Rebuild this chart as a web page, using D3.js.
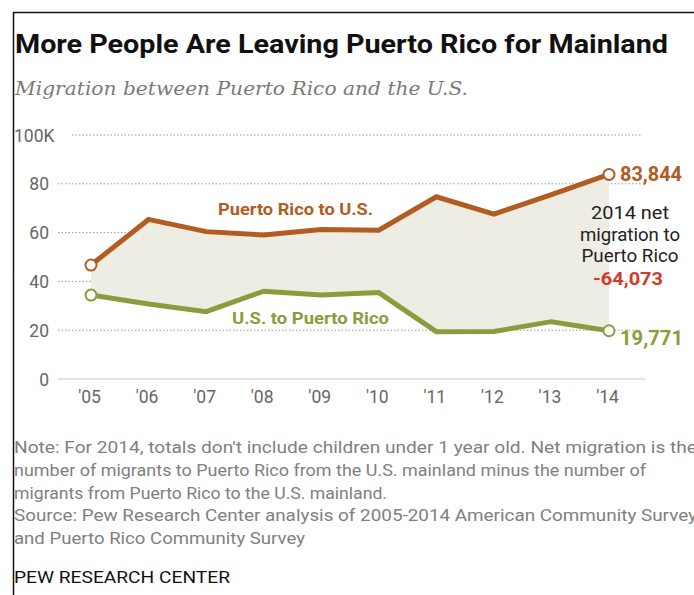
<!DOCTYPE html>
<html>
<head>
<meta charset="utf-8">
<script src="https://cdn.jsdelivr.net/npm/d3@7"></script>
<style>
  html, body { margin: 0; padding: 0; background: #fff; }
  svg { display: block; }
  .cond { font-family: "Liberation Sans Narrow", "Roboto", "Liberation Sans", sans-serif; }
</style>
</head>
<body>
<svg id="chart" width="694" height="595"></svg>
<script>
// Migration between Puerto Rico and the U.S. mainland, thousands of people
const years = ["'05", "'06", "'07", "'08", "'09", "'10", "'11", "'12", "'13", "'14"];
const prToUS = [46.7, 65.4, 60.4, 59.0, 61.3, 61.0, 74.7, 67.6, 75.6, 83.844];
const usToPR = [34.4, 30.7, 27.6, 36.0, 34.4, 35.4, 19.4, 19.5, 23.5, 19.771];
const yTicks = [0, 20, 40, 60, 80, 100];
const yTickLabels = ["0", "20", "40", "60", "80", "100K"];
const endLabels = ["83,844", "19,771"];
const netLabel = "-64,073";
const noteLines = [
  "Note: For 2014, totals don't include children under 1 year old. Net migration is the",
  "number of migrants to Puerto Rico from the U.S. mainland minus the number of",
  "migrants from Puerto Rico to the U.S. mainland.",
  "Source: Pew Research Center analysis of 2005-2014 American Community Survey",
  "and Puerto Rico Community Survey"
];

const brown = "#b35c22";
const green = "#8c9c3d";
const red = "#d33a2a";

const svg = d3.select("#chart");

// frame: top and left rules
svg.append("line").attr("x1", 13).attr("x2", 694).attr("y1", 12.5).attr("y2", 12.5)
  .attr("stroke", "#111").attr("stroke-width", 1.5);
svg.append("line").attr("x1", 13.5).attr("x2", 13.5).attr("y1", 12).attr("y2", 595)
  .attr("stroke", "#111").attr("stroke-width", 1.5);

// title and subtitle
svg.append("text").attr("class", "cond").attr("x", 15).attr("y", 53)
  .attr("font-size", 25).attr("font-weight", "bold").attr("fill", "#111")
  .attr("textLength", 653).attr("lengthAdjust", "spacingAndGlyphs")
  .text("More People Are Leaving Puerto Rico for Mainland");
svg.append("text").attr("x", 15).attr("y", 95)
  .attr("font-family", "'DejaVu Serif', 'Liberation Serif', serif")
  .attr("font-style", "italic").attr("font-size", 18).attr("fill", "#7a7a7a")
  .attr("textLength", 453).attr("lengthAdjust", "spacingAndGlyphs")
  .text("Migration between Puerto Rico and the U.S.");

// scales
const x = d3.scalePoint().domain(years).range([91, 609]);
const y = d3.scaleLinear().domain([0, 100]).range([379, 135]);

// gridlines
const grid = svg.append("g");
yTicks.forEach((t) => {
  if (t === 0) {
    grid.append("line").attr("x1", 58).attr("x2", 645).attr("y1", y(t)).attr("y2", y(t))
      .attr("stroke", "#c8c8c8").attr("stroke-width", 1);
  } else {
    grid.append("line").attr("x1", t === 100 ? 72 : 58).attr("x2", 642)
      .attr("y1", y(t)).attr("y2", y(t))
      .attr("stroke", "#9a9a9a").attr("stroke-width", 1).attr("stroke-dasharray", "1.5,2");
  }
});

// y-axis labels
const yAxis = d3.axisLeft(y).tickValues(yTicks).tickSize(0).tickPadding(0)
  .tickFormat((d, i) => yTickLabels[i]);
const gy = svg.append("g").attr("transform", "translate(49,0)").call(yAxis);
gy.select(".domain").remove();
gy.selectAll("text").attr("class", "cond").attr("font-size", 17.5).attr("fill", "#666")
  .attr("dy", "0.35em")
  .attr("text-anchor", (d) => d === 100 ? "start" : "end")
  .attr("x", (d) => d === 100 ? -35 : 0);

// x-axis labels
const xAxis = d3.axisBottom(x).tickSize(0).tickPadding(0);
const gx = svg.append("g").attr("transform", "translate(-2,391)").call(xAxis);
gx.select(".domain").remove();
gx.selectAll("text").attr("class", "cond").attr("font-size", 17.5).attr("fill", "#666")
  .attr("dy", "0.71em");

// shaded band between the two flows
const band = d3.area()
  .x((d, i) => x(years[i]))
  .y0((d, i) => y(usToPR[i]))
  .y1((d) => y(d));
svg.append("path").datum(prToUS).attr("d", band).attr("fill", "#eeede4");

// flow lines
const line = d3.line().x((d, i) => x(years[i])).y((d) => y(d));
[[prToUS, brown], [usToPR, green]].forEach(([vals, col]) => {
  svg.append("path").datum(vals).attr("d", line).attr("fill", "none")
    .attr("stroke", col).attr("stroke-width", 5).attr("stroke-linejoin", "miter");
  [0, vals.length - 1].forEach((i) => {
    svg.append("circle").attr("cx", x(years[i])).attr("cy", y(vals[i])).attr("r", 5.5)
      .attr("fill", "#fff").attr("stroke", col).attr("stroke-width", 2);
  });
});

// series labels
svg.append("text").attr("class", "cond").attr("x", 218).attr("y", 215)
  .attr("font-size", 16.5).attr("font-weight", "bold").attr("fill", brown)
  .attr("textLength", 155).attr("lengthAdjust", "spacingAndGlyphs")
  .text("Puerto Rico to U.S.");
svg.append("text").attr("class", "cond").attr("x", 232).attr("y", 324)
  .attr("font-size", 16.5).attr("font-weight", "bold").attr("fill", green)
  .attr("textLength", 157).attr("lengthAdjust", "spacingAndGlyphs")
  .text("U.S. to Puerto Rico");

// end values
const last = years.length - 1;
svg.append("text").attr("class", "cond").attr("x", x(years[last]) + 11).attr("y", y(prToUS[last]) + 7)
  .attr("font-size", 19.5).attr("font-weight", "bold").attr("fill", brown)
  .attr("textLength", 62).attr("lengthAdjust", "spacingAndGlyphs").text(endLabels[0]);
svg.append("text").attr("class", "cond").attr("x", x(years[last]) + 11).attr("y", y(usToPR[last]) + 14)
  .attr("font-size", 19.5).attr("font-weight", "bold").attr("fill", green)
  .attr("textLength", 63).attr("lengthAdjust", "spacingAndGlyphs").text(endLabels[1]);

// net migration annotation
const ann = svg.append("g").attr("class", "cond").attr("text-anchor", "middle");
const annWidths = [78, 100, 97];
["2014 net", "migration to", "Puerto Rico"].forEach((s, i) => {
  ann.append("text").attr("x", 630).attr("y", 219 + i * 21.7)
    .attr("font-size", 18.5).attr("fill", "#222")
    .attr("textLength", annWidths[i]).attr("lengthAdjust", "spacingAndGlyphs").text(s);
});
ann.append("text").attr("x", 628).attr("y", 285)
  .attr("font-size", 19).attr("font-weight", "bold").attr("fill", red)
  .attr("textLength", 70).attr("lengthAdjust", "spacingAndGlyphs").text(netLabel);

// notes and source
const noteWidths = [683, 632, 373, 683, 291];
noteLines.forEach((s, i) => {
  svg.append("text").attr("class", "cond").attr("x", 14).attr("y", 453 + i * 22.8)
    .attr("font-size", 16).attr("fill", "#808080")
    .attr("textLength", noteWidths[i]).attr("lengthAdjust", "spacingAndGlyphs")
    .text(s);
});
svg.append("text").attr("class", "cond").attr("x", 14).attr("y", 583)
  .attr("font-size", 16.5).attr("fill", "#111")
  .attr("textLength", 216).attr("lengthAdjust", "spacingAndGlyphs")
  .text("PEW RESEARCH CENTER");
</script>
</body>
</html>
